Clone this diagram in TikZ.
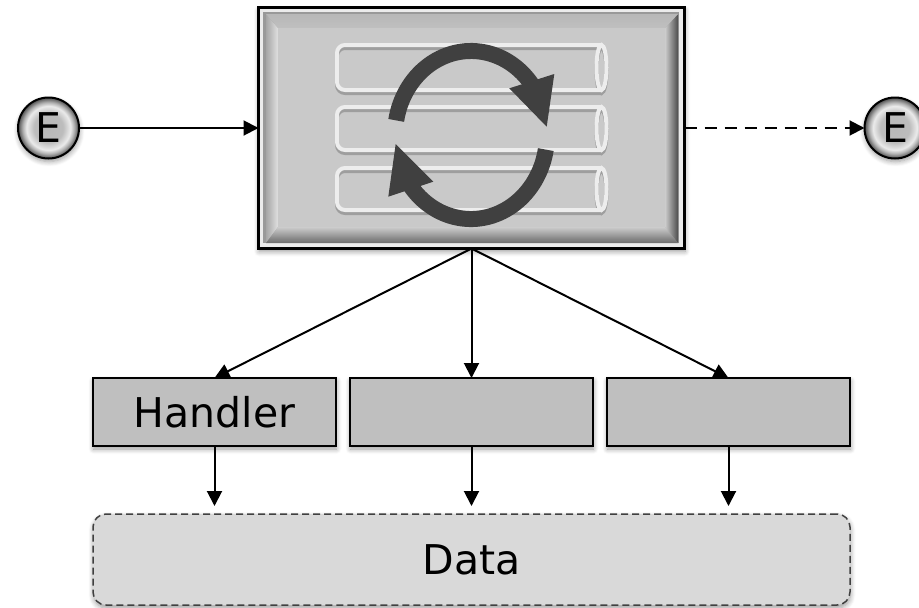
\documentclass[tikz,border=0pt]{standalone}
\usepackage{fontspec}
\setmainfont{DejaVu Sans}
\usetikzlibrary{arrows.meta,shadows,shadows.blur}
\definecolor{iconcol}{HTML}{404040}
\pgfdeclareradialshading{chipshade}{\pgfpointorigin}{
	color(0bp)=(black!28); color(12bp)=(black!26); color(18bp)=(black!8);
	color(21bp)=(black!30); color(25bp)=(black!70); color(50bp)=(black!70)
}
\tikzset{
	softshadow/.style={blur shadow={shadow xshift=0.5pt,shadow yshift=-3pt,shadow blur steps=6,shadow blur radius=5pt,shadow opacity=40}},
	chip/.style={circle,draw=black,line width=2pt,shading=chipshade,minimum size=61pt,inner sep=0pt,outer sep=0pt,font=\fontsize{41}{41}\selectfont,softshadow},
	handlerbox/.style={rectangle,draw=black,line width=1.6pt,fill=black!25,minimum width=243pt,minimum height=68pt,inner sep=0pt,outer sep=0pt,font=\fontsize{41}{41}\selectfont,softshadow},
	tubeline/.style={line width=4pt,rounded corners=8pt},
	flow/.style={-{Triangle[length=15pt,width=15pt]},line width=2pt},
}
\begin{document}
\begin{tikzpicture}[x=1pt,y=-1pt]
			\useasboundingbox (0,0) rectangle (919,608);
			% main block
			\node (loop) [rectangle,draw=black,line width=2.6pt,fill=black!8,minimum width=426pt,minimum height=241pt,inner sep=0pt,outer sep=0pt,softshadow] at (471.5,128) {};
			\fill[black!40] (263,12) rectangle (679,243);
			\shade[left color=black!35,right color=black!12] (266,14) -- (278,28) -- (278,227) -- (266,243) -- cycle;
			\shade[left color=black!20,right color=black!70] (665,28) -- (678,14) -- (678,243) -- (665,227) -- cycle;
			\shade[top color=black!20,bottom color=black!58] (278,227) -- (665,227) -- (678,243) -- (266,243) -- cycle;
			\shade[top color=black!28,middle color=white,bottom color=black!25] (266,14) -- (678,14) -- (665,28) -- (278,28) -- cycle;
			\fill[black!21] (278,28) rectangle (665,227);
			% tubes
			\foreach \col/\off in {black!38/3,white!93!black/0}
				\foreach \top/\bot in {45/90,107/150,168/210}
				{
					\draw[tubeline,draw=\col] (601,\top+\off) -- (337,\top+\off) -- (337,\bot+\off) -- (601,\bot+\off);
					\draw[line width=4pt,draw=\col] (601.5,{(\top+\bot)/2+\off}) ellipse [x radius=5pt,y radius={(\bot-\top)/2*1pt}];
				}
			% round arrows
			\draw[iconcol,line width=16pt] (396.2,120.4) arc[start angle=170,end angle=37,x radius=76pt,y radius=84pt];
			\fill[iconcol] (554.3,74) -- (546.7,126.7) -- (509.3,88.3) -- cycle;
			\draw[iconcol,line width=16pt] (545.8,149.6) arc[start angle=-10,end angle=-143,x radius=76pt,y radius=84pt];
			\fill[iconcol] (395.7,144) -- (388.3,196.7) -- (433.3,181.7) -- cycle;
			% events
			\node (in) [chip] at (48.5,128) {E};
			\node (out) [chip] at (895,128) {E};
			% handlers and data
			\node (h1) [handlerbox] at (214.5,412) {Handler};
			\node (h2) [handlerbox] at (471.5,412) {};
			\node (h3) [handlerbox] at (728.5,412) {};
			\node (data) [rectangle,rounded corners=13pt,draw=iconcol,dashed,dash pattern=on 7pt off 4pt,line width=1.5pt,fill=black!15,minimum width=757pt,minimum height=91pt,inner sep=0pt,outer sep=0pt,font=\fontsize{41}{41}\selectfont,softshadow] at (471.5,559.5) {Data};
			\coordinate (d1) at (214.5,506);
			\coordinate (d2) at (471.5,506);
			\coordinate (d3) at (728.5,506);
			\path[flow]
			(in) edge (loop)
			(loop) edge[dashed,dash pattern=on 12pt off 8pt] (out)
			(loop.south) edge (h1.north) edge (h2.north) edge (h3.north)
			(h1) edge (d1)
			(h2) edge (d2)
			(h3) edge (d3);
		\end{tikzpicture}
\end{document}
